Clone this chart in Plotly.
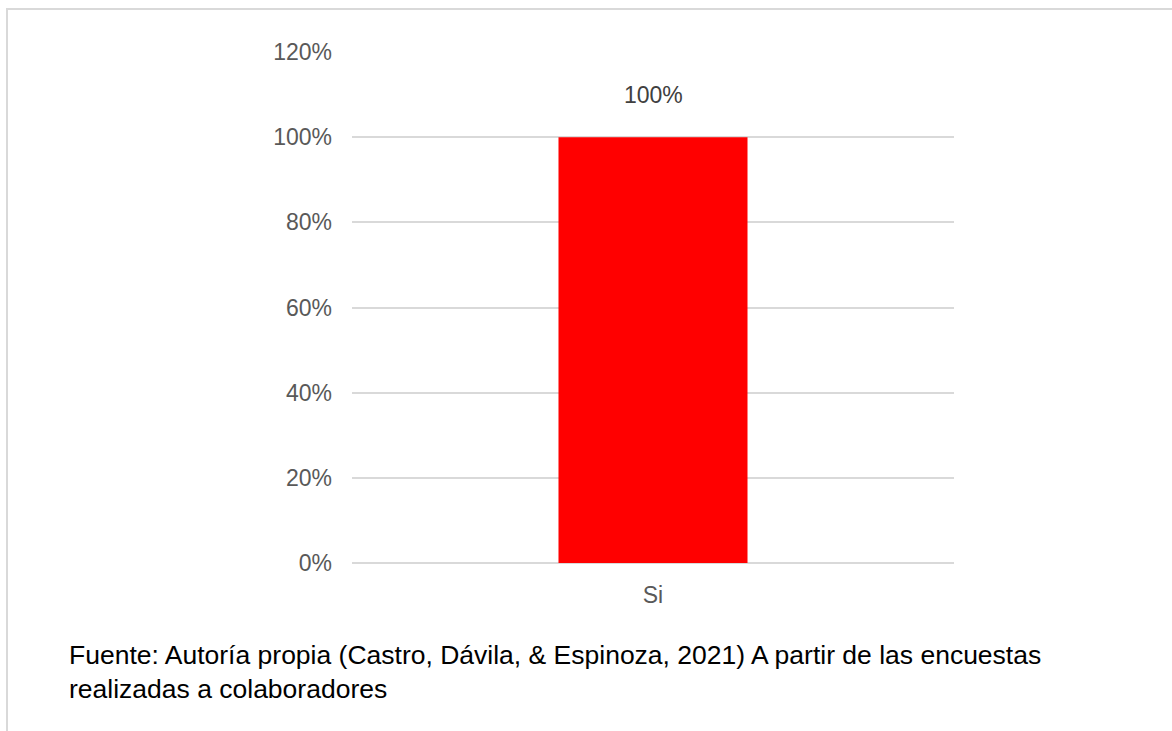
import plotly.graph_objects as go

categories = ["Si"]
values = [1.0]
y_ticks = [0, 0.2, 0.4, 0.6, 0.8, 1.0, 1.2]
y_tick_labels = ["0%", "20%", "40%", "60%", "80%", "100%", "120%"]
footer_lines = [
    "Fuente: Autoría propia (Castro, Dávila, & Espinoza, 2021) A partir de las encuestas",
    "realizadas a colaboradores",
]

W, H = 1172, 731
L, R, T, B = 352, 954, 52, 563  # plot area in pixels

def px_x(p):
    return (p - L) / (R - L)

def px_y(p):
    return (B - p) / (B - T)

fig = go.Figure()
fig.add_trace(go.Bar(
    x=categories,
    y=values,
    width=0.314,
    marker=dict(color="#ff0000", line=dict(width=0)),
    hoverinfo="skip",
))

# value labels above bars
for c, v in zip(categories, values):
    fig.add_annotation(
        x=c, y=v, text=f"{v * 100:.0f}%", showarrow=False,
        yanchor="bottom", yshift=27,
        font=dict(family="Liberation Sans, Arial, sans-serif", size=23, color="#404040"),
    )

# footer note
fig.add_annotation(
    xref="paper", yref="paper", x=px_x(67), y=px_y(638),
    xanchor="left", yanchor="top", align="left", showarrow=False,
    text="<br>".join(footer_lines),
    font=dict(family="Liberation Sans, Arial, sans-serif", size=26.5, color="#000000"),
)

# frame lines (top and left)
border = dict(color="#d9d9d9", width=2)
fig.add_shape(type="line", xref="paper", yref="paper",
              x0=px_x(6), x1=px_x(W + 5), y0=px_y(9), y1=px_y(9), line=border)
fig.add_shape(type="line", xref="paper", yref="paper",
              x0=px_x(7), x1=px_x(7), y0=px_y(9), y1=px_y(H + 5), line=border)

fig.update_layout(
    width=W, height=H, autosize=False,
    margin=dict(l=L, r=W - R, t=T, b=H - B, pad=0),
    paper_bgcolor="white", plot_bgcolor="white",
    showlegend=False,
    font=dict(family="Liberation Sans, Arial, sans-serif", size=23, color="#595959"),
    xaxis=dict(
        range=[-0.5, 0.5], showgrid=False, showline=False, zeroline=False,
        ticks="", ticklabelstandoff=16,
        tickfont=dict(size=23, color="#595959"),
    ),
    yaxis=dict(
        range=[0, 1.2], tickvals=y_ticks, ticktext=y_tick_labels,
        showgrid=True, gridcolor="#d9d9d9", gridwidth=1.5,
        zeroline=True, zerolinecolor="#d9d9d9", zerolinewidth=2,
        showline=False, ticks="", ticklabelstandoff=19,
        tickfont=dict(size=23, color="#595959"),
    ),
)

fig.write_html("out.html")
